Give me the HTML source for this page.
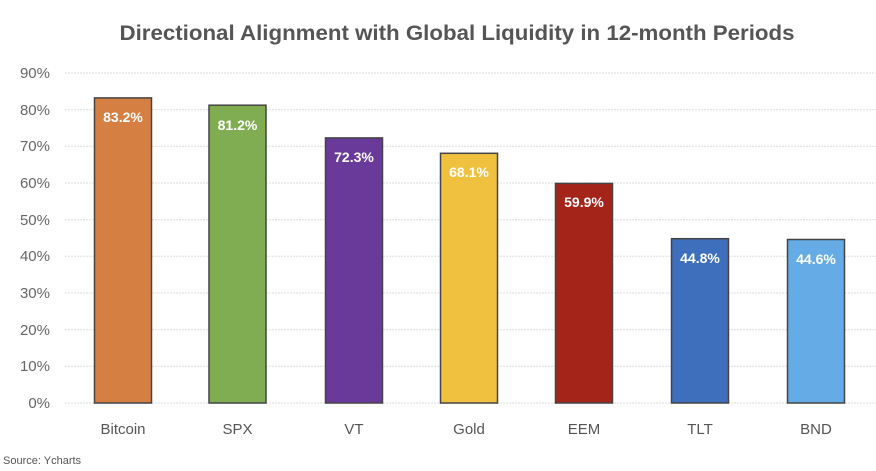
<!DOCTYPE html>
<html><head><style>
body{margin:0;background:#fff;}
svg{display:block;font-family:"Liberation Sans",sans-serif;}
</style></head><body>
<svg width="876" height="471" viewBox="0 0 876 471">
<text x="457" y="40" text-anchor="middle" font-size="21" font-weight="bold" fill="#555" textLength="675" lengthAdjust="spacingAndGlyphs">Directional Alignment with Global Liquidity in 12-month Periods</text>
<g stroke="#ddd" stroke-width="1" stroke-dasharray="2,1">
<line x1="65" x2="876" y1="73" y2="73"/><line x1="65" x2="876" y1="109.7" y2="109.7"/>
<line x1="65" x2="876" y1="146.3" y2="146.3"/><line x1="65" x2="876" y1="183" y2="183"/>
<line x1="65" x2="876" y1="219.7" y2="219.7"/><line x1="65" x2="876" y1="256.3" y2="256.3"/>
<line x1="65" x2="876" y1="293" y2="293"/><line x1="65" x2="876" y1="329.7" y2="329.7"/>
<line x1="65" x2="876" y1="366.3" y2="366.3"/><line x1="65" x2="876" y1="403" y2="403"/>
</g>
<g font-size="15" fill="#666" text-anchor="end">
<text x="50" y="78">90%</text><text x="50" y="115">80%</text><text x="50" y="151">70%</text>
<text x="50" y="188">60%</text><text x="50" y="225">50%</text><text x="50" y="261">40%</text>
<text x="50" y="298">30%</text><text x="50" y="335">20%</text><text x="50" y="371">10%</text>
<text x="50" y="408">0%</text>
</g>
<g stroke="#444" stroke-width="1.5">
<rect x="94.5" y="97.9" width="57" height="305.1" fill="#d67f42"/>
<rect x="209" y="105.2" width="57" height="297.8" fill="#80ac52"/>
<rect x="325.5" y="137.9" width="57" height="265.1" fill="#6a3a9a"/>
<rect x="440.5" y="153.3" width="57" height="249.7" fill="#efc13e"/>
<rect x="555.5" y="183.4" width="57" height="219.6" fill="#a5241a"/>
<rect x="671.5" y="238.7" width="57" height="164.3" fill="#3e6fbc"/>
<rect x="787.5" y="239.5" width="57" height="163.5" fill="#65ace6"/>
</g>
<g font-size="14" font-weight="bold" fill="#fff" text-anchor="middle">
<text x="123" y="122">83.2%</text><text x="237.5" y="130">81.2%</text>
<text x="354" y="162">72.3%</text><text x="469" y="177">68.1%</text>
<text x="584" y="207">59.9%</text><text x="700" y="263">44.8%</text>
<text x="816" y="264">44.6%</text>
</g>
<g font-size="15" fill="#555" text-anchor="middle">
<text x="123" y="434">Bitcoin</text><text x="237.5" y="434">SPX</text>
<text x="354" y="434">VT</text><text x="469" y="434">Gold</text>
<text x="584" y="434">EEM</text><text x="700" y="434">TLT</text>
<text x="816" y="434">BND</text>
</g>
<text x="3" y="464" font-size="11" fill="#555">Source: Ycharts</text>
</svg>
</body></html>
